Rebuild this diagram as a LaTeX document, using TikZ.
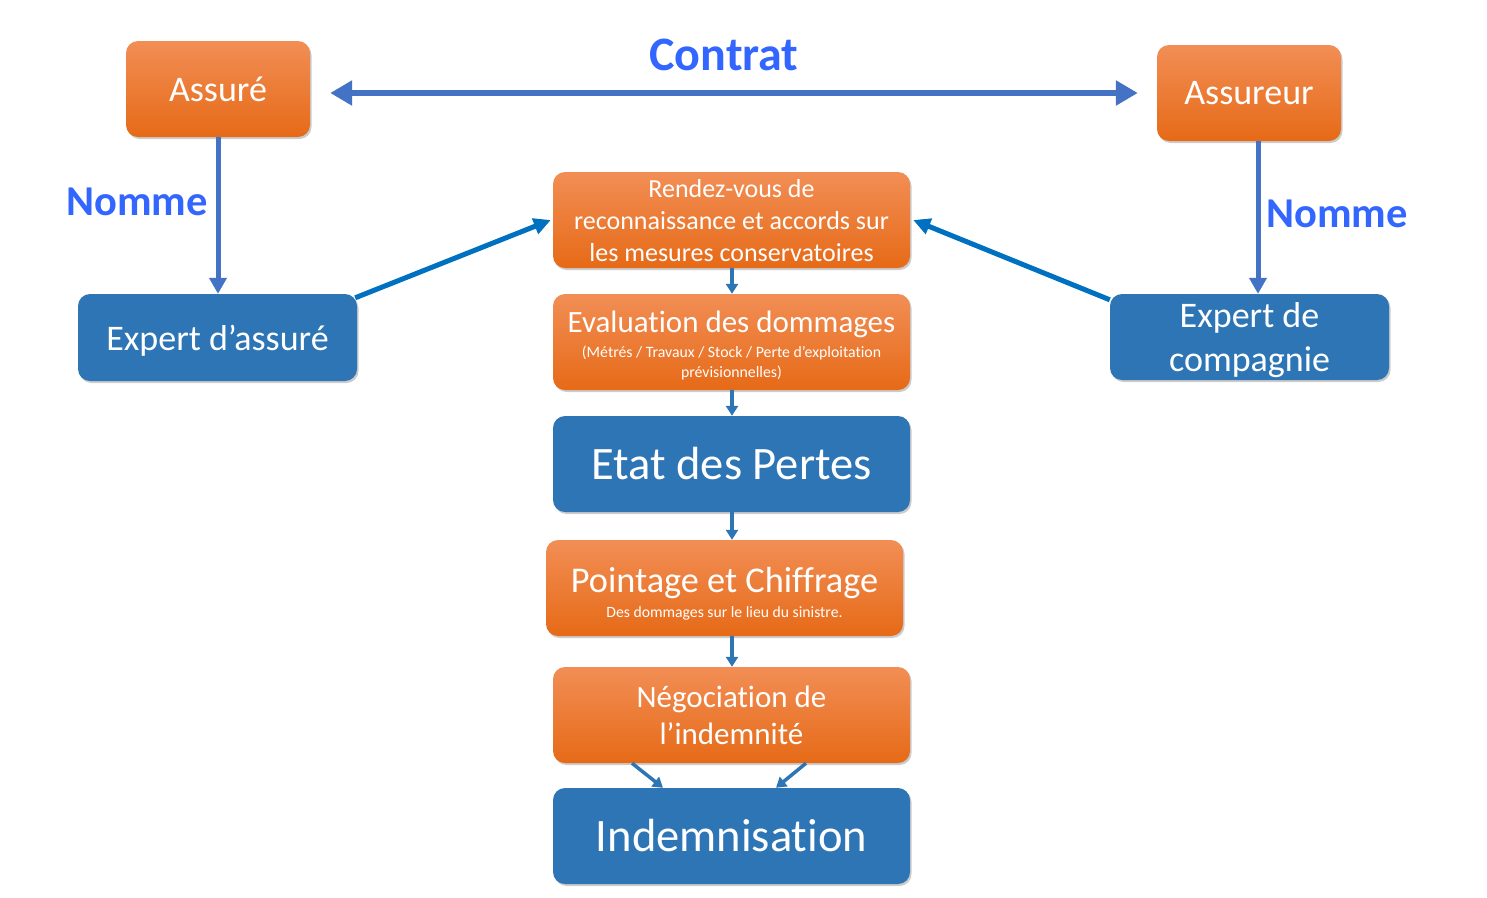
\documentclass[tikz,border=0pt]{standalone}
\usepackage{fontspec}
\setmainfont{Carlito}[RawFeature={-liga;-clig;-dlig;-calt}]
\usetikzlibrary{arrows.meta,shadows,calc}
\definecolor{otop}{HTML}{F28E55}
\definecolor{obot}{HTML}{E66A17}
\definecolor{bbox}{HTML}{2E75B6}
\definecolor{contratc}{HTML}{4472C4}
\definecolor{labc}{HTML}{3366FF}
\definecolor{diagc}{HTML}{0070C0}
\tikzset{
  obox/.style={rectangle, rounded corners=12pt, top color=otop, bottom color=obot, draw=none,
    text=white, align=center, inner sep=0pt,
    drop shadow={shadow xshift=1.5pt, shadow yshift=-2pt, opacity=0.2, fill=black}},
  bluebox/.style={rectangle, rounded corners=12pt, fill=bbox, draw=none,
    text=white, align=center, inner sep=0pt,
    drop shadow={shadow xshift=1.5pt, shadow yshift=-2pt, opacity=0.2, fill=black}},
  intext/.style={text=white, align=center, inner sep=0pt},
  lab/.style={text=labc, font=\bfseries\fontsize{42.5}{48}\selectfont, inner sep=0pt},
  contratarrow/.style={draw=contratc, line width=6pt, {Triangle[length=22pt,width=24pt]}-{Triangle[length=22pt,width=24pt]}},
  nommearrow/.style={draw=contratc, line width=5pt, -{Triangle[length=16pt,width=17pt]}},
  diagarrow/.style={draw=diagc, line width=5pt, -{Triangle[length=17pt,width=16pt]}},
  smallarrow/.style={draw=bbox, line width=3.5pt, -{Triangle[length=10pt,width=12pt]}},
}
\newcommand{\fs}[2]{\fontsize{#1}{#2}\selectfont}
\begin{document}
\begin{tikzpicture}[x=1pt,y=-1pt]
\useasboundingbox (0,0) rectangle (1487,897);

\node[obox, minimum width=184pt, minimum height=96pt, font=\fs{36}{40}] (assure) at (218,89) {Assuré};
\node[obox, minimum width=184pt, minimum height=96pt, font=\fs{36}{40}] (assureur) at (1249,93) {Assureur};

\node[bluebox, minimum width=279pt, minimum height=87pt, font=\fs{36}{40}, text depth=0pt] (expa) at (217.5,337.5) {Expert d’assuré};
\node[bluebox, minimum width=279pt, minimum height=86pt] (expc) at (1249.5,337) {};
\node[intext, font=\fs{36}{44}] (expct) at ([yshift=-3pt]expc.center) {Expert de\\compagnie};

\node[obox, minimum width=357pt, minimum height=96pt] (rdv) at (731.5,220) {};
\node[intext, font=\fs{26}{32}] (rdvt) at ([yshift=-1pt]rdv.center) {Rendez-vous de\\reconnaissance et accords sur\\les mesures conservatoires};
\node[obox, minimum width=357pt, minimum height=96pt] (eval) at (731.5,342) {};
\node[intext, font=\fs{15.8}{20}] (evalt) at ([yshift=-4pt]eval.center) {{\fs{31}{31}Evaluation des dommages}\\[5pt](Métrés / Travaux / Stock / Perte d’exploitation\\prévisionnelles)};
\node[bluebox, minimum width=357pt, minimum height=96pt, font=\fs{46.5}{50}] (etat) at (731.5,464) {Etat des Pertes};
\node[obox, minimum width=357pt, minimum height=96pt] (point) at (724.5,588) {};
\node[intext, font=\fs{15.7}{18}] (pointt) at ([yshift=-6pt]point.center) {{\fs{36.3}{36}Pointage et Chiffrage}\\[7pt]Des dommages sur le lieu du sinistre.};
\node[obox, minimum width=357pt, minimum height=96pt, font=\fs{31}{37}] (nego) at (731.5,715) {Négociation de\\l’indemnité};
\node[bluebox, minimum width=357pt, minimum height=96pt, font=\fs{46.5}{50}] (indem) at (731.5,836) {Indemnisation};

\node[lab, font=\bfseries\fs{48}{54}] (contrat) at (724,55) {Contrat};
\node[lab] (nomme1) at (137,202) {Nomme};
\node[lab] (nomme2) at (1337,214) {Nomme};

\draw[contratarrow] ([xshift=20pt]assure.east |- assureur.center) -- ([xshift=-19pt]assureur.west);
\draw[nommearrow] (assure.south) -- (assure.south |- expa.north);
\draw[nommearrow] ([xshift=9pt]assureur.south) -- ([xshift=9pt]assureur.south |- expc.north);

\draw[diagarrow] ([xshift=-2pt,yshift=-4pt]expa.north east) -- ([xshift=-2pt]rdv.west);
\draw[diagarrow] ([yshift=-6pt]expc.north west) -- ([xshift=3pt]rdv.east);

\draw[smallarrow] ([xshift=0.5pt]rdv.south) -- ([xshift=0.5pt]eval.north);
\draw[smallarrow] ([xshift=0.5pt]eval.south) -- ([xshift=0.5pt]etat.north);
\draw[smallarrow] ([xshift=0.5pt]etat.south) -- ([xshift=0.5pt]etat.south |- point.north);
\draw[smallarrow] ([xshift=0.5pt]point.south -| nego.north) -- ([xshift=0.5pt]nego.north);

\draw[smallarrow] ([xshift=-99.5pt]nego.south) -- ([xshift=-68.5pt]indem.north);
\draw[smallarrow] ([xshift=74.5pt]nego.south) -- ([xshift=44.5pt]indem.north);
\end{tikzpicture}
\end{document}
